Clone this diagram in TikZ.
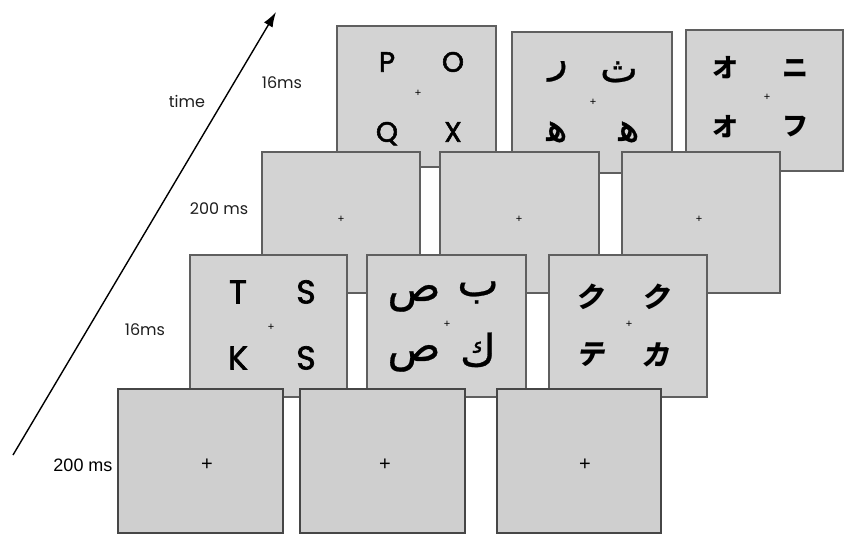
\documentclass[tikz,border=0pt]{standalone}
\usepackage{fontspec}
\setmainfont{Liberation Sans}
\newfontfamily\agfont{Poppins}
\newfontfamily\agbold[FakeBold=2]{Poppins}
\newfontfamily\arabicfont[Script=Arabic,FakeBold=0.6]{DejaVu Sans}
\newfontfamily\jpfont{Noto Sans CJK JP}
\TeXXeTstate=1
\usetikzlibrary{arrows.meta}
\definecolor{panelfill}{RGB}{211,211,211}
\definecolor{panelline}{RGB}{95,95,95}
\definecolor{frontfill}{RGB}{207,207,207}
\definecolor{frontline}{RGB}{70,70,70}
\definecolor{labelcol}{RGB}{30,30,30}
\tikzset{
  panel/.style={draw=panelline, fill=panelfill, line width=1.1pt, inner sep=0pt, minimum height=141pt},
  frontpanel/.style={draw=frontline, fill=frontfill, line width=1.8pt, inner sep=0pt, minimum height=144pt},
  latinA/.style={inner sep=0pt, font=\agbold\fontsize{28}{28}\selectfont, text height=19.5pt, text depth=0pt},
  latinB/.style={inner sep=0pt, font=\agbold\fontsize{33}{33}\selectfont, text height=23pt, text depth=0pt},
  arabA/.style={inner sep=0pt, anchor=base, font=\arabicfont\fontsize{40}{40}\selectfont},
  arabB/.style={inner sep=0pt, anchor=base, font=\arabicfont\fontsize{44}{44}\selectfont},
  jpA/.style={inner sep=0pt, font=\jpfont\bfseries\fontsize{26}{26}\selectfont},
  jpB/.style={inner sep=0pt, transform shape, font=\jpfont\bfseries\fontsize{28}{28}\selectfont},
  slanted/.style={xslant=0.2},
  fix/.style={inner sep=0pt, font=\fontsize{11}{11}\selectfont},
  fixbig/.style={inner sep=0pt, font=\fontsize{20}{20}\selectfont},
  lbl/.style={inner sep=0pt, text=labelcol, font=\agfont\fontsize{16}{16}\selectfont},
  lblB/.style={inner sep=0pt, text=black, font=\fontsize{18}{18}\selectfont}
}
\begin{document}
\begin{tikzpicture}[x=1pt,y=-1pt]
\useasboundingbox (0,0) rectangle (846,534);

% row 1 (16 ms, back)
\node[panel, minimum width=159pt] (p11) at (416.5,96.5) {};
\node[panel, minimum width=160pt] (p12) at (592,102.5) {};
\node[panel, minimum width=157pt] (p13) at (764.5,100.5) {};
\node[latinA] (a1) at (387,62) {P};
\node[latinA] (a2) at (453,62) {O};
\node[latinA] (a3) at (387,132) {Q};
\node[latinA] (a4) at (453,132) {X};
\node[fix] (f11) at (418,93) {+};
\node[arabA] (b1) at (558,72) {\beginR ر\endR};
\node[arabA] (b2) at (619,82) {\beginR ث\endR};
\node[arabA] (b3) at (557,141) {\beginR ﻫ\endR};
\node[arabA] (b4) at (629,141) {\beginR ﻫ\endR};
\node[fix] (f12) at (593,102) {+};
\node[jpA] (c1) at (725,68) {オ};
\node[jpA] (c2) at (795,68) {ニ};
\node[jpA] (c3) at (725,127) {オ};
\node[jpA] (c4) at (795,127) {フ};
\node[fix] (f13) at (767,97) {+};

% row 2 (200 ms)
\node[panel, minimum width=158pt] (p21) at (341,222.5) {};
\node[panel, minimum width=159pt] (p22) at (519.5,222.5) {};
\node[panel, minimum width=158pt] (p23) at (701,222.5) {};
\node[fix] (f21) at (341,219) {+};
\node[fix] (f22) at (519,219) {+};
\node[fix] (f23) at (699,219) {+};

% row 3 (16 ms)
\node[panel, minimum width=157pt, minimum height=142pt] (p31) at (268.5,326) {};
\node[panel, minimum width=159pt, minimum height=142pt] (p32) at (446.5,326) {};
\node[panel, minimum width=158pt, minimum height=142pt] (p33) at (628,326) {};
\node[latinB] (d1) at (238,292) {T};
\node[latinB] (d2) at (306,292) {S};
\node[latinB] (d3) at (238,358) {K};
\node[latinB] (d4) at (306,358) {S};
\node[fix] (f31) at (271,327) {+};
\node[arabB] (e1) at (414,301) {\beginR ص\endR};
\node[arabB] (e2) at (478,296) {\beginR ب\endR};
\node[arabB] (e3) at (414,361) {\beginR ص\endR};
\node[arabB] (e4) at (478,366) {\beginR ك\endR};
\node[fix] (f32) at (447,324) {+};
\begin{scope}[shift={(592,297)}, slanted]\node[jpB] (g1) at (0,0) {ク};\end{scope}
\begin{scope}[shift={(658,297)}, slanted]\node[jpB] (g2) at (0,0) {ク};\end{scope}
\begin{scope}[shift={(592,355)}, slanted]\node[jpB] (g3) at (0,0) {テ};\end{scope}
\begin{scope}[shift={(658,355)}, slanted]\node[jpB] (g4) at (0,0) {カ};\end{scope}
\node[fix] (f33) at (629,324) {+};

% row 4 (200 ms, front)
\node[frontpanel, minimum width=165pt] (p41) at (200.5,461) {};
\node[frontpanel, minimum width=165pt] (p42) at (382.5,461) {};
\node[frontpanel, minimum width=164pt] (p43) at (579,461) {};
\node[fixbig] (f41) at (207,465) {+};
\node[fixbig] (f42) at (385,465) {+};
\node[fixbig] (f43) at (585,465) {+};

% labels
\node[lbl] (l1) at (282,83) {16ms};
\node[lbl] (l2) at (219,209) {200 ms};
\node[lbl] (l3) at (145,330) {16ms};
\node[lblB] (l4) at (83,465) {200 ms};
\node[lbl] (lt) at (187,101) {time};

% time arrow
\coordinate (tail) at (13,455);
\coordinate (head) at (276,12);
\draw[line width=1.4pt, -{Latex[length=15pt,width=10pt]}] (tail) -- (head);
\end{tikzpicture}
\end{document}
